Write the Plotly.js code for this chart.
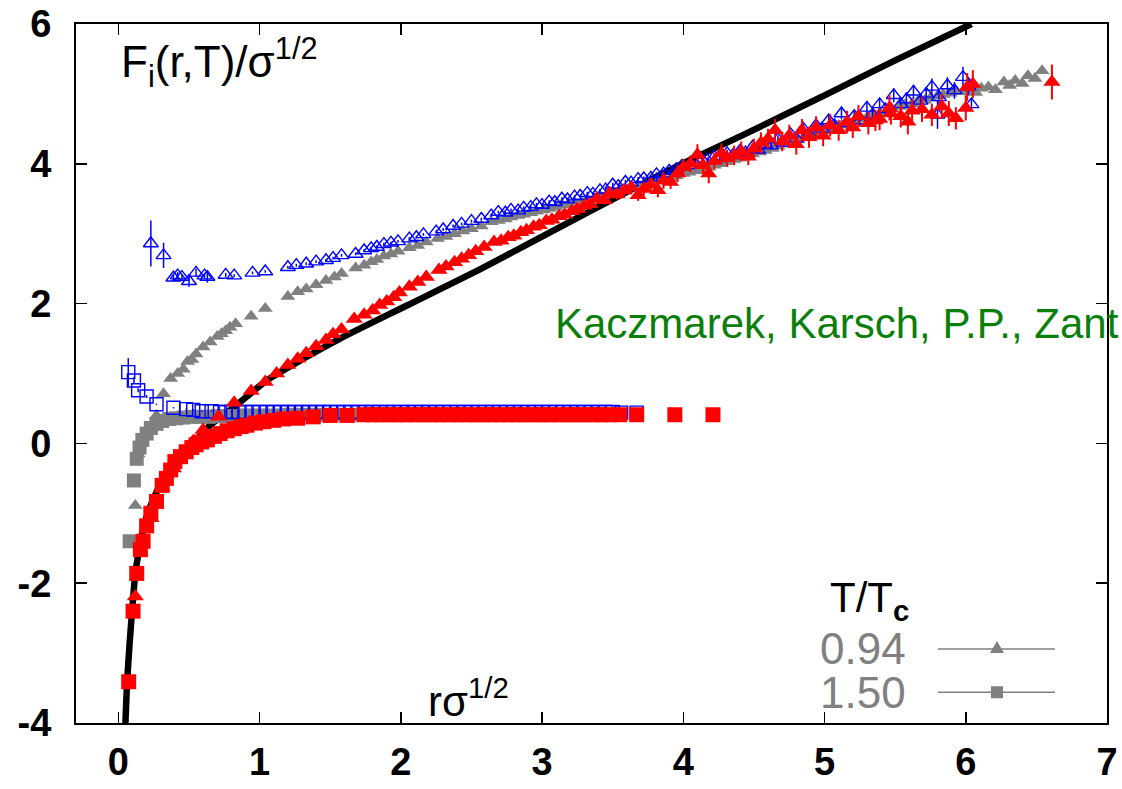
<!DOCTYPE html>
<html>
<head>
<meta charset="utf-8">
<script src="https://cdn.plot.ly/plotly-3.0.1.min.js"></script>
<style>html,body{margin:0;padding:0;background:#fff;}#chart{width:1122px;height:789px;}</style>
</head>
<body>
<div id="chart"></div>
<script>
// ---------- data (x = r*sqrt(sigma), y = F/sqrt(sigma)) ----------
const xTicks = [0, 1, 2, 3, 4, 5, 6, 7];
const yTicks = [-4, -2, 0, 2, 4, 6];

// thick black curve (T = 0 potential)
const curveX = [0.05, 0.062, 0.08, 0.097, 0.12, 0.147, 0.18, 0.24, 0.32, 0.44, 0.53, 0.65, 0.82, 1.05, 1.3, 1.57, 2.05, 2.57, 3.28, 3.99, 4.41, 5.0, 5.5, 6.04];
const curveY = [-4.0, -3.41, -2.85, -2.4, -1.86, -1.52, -1.18, -0.83, -0.5, -0.12, 0.0, 0.26, 0.52, 0.9, 1.2, 1.5, 1.98, 2.5, 3.26, 4.0, 4.4, 4.98, 5.48, 6.0];

// blue open triangles [x, y, err]
const blueTri = [
 [0.23,2.86,0.33],[0.32,2.69,0.18],[0.39,2.37,0.05],[0.42,2.40,0.05],[0.45,2.38,0.04],[0.50,2.32,0.08],
 [0.55,2.44,0.06],[0.61,2.40,0.04],[0.63,2.38,0.08],[0.76,2.41,0.03],[0.82,2.40,0.02],[0.95,2.44,0.02],
 [1.04,2.46,0.02],[1.20,2.52,0.02],[1.26,2.55,0.02],[1.33,2.57,0.02],[1.40,2.60,0.02],[1.47,2.62,0.02],
 [1.52,2.65,0.02],[1.58,2.69,0.02],[1.68,2.71,0.02],[1.74,2.76,0.02],[1.79,2.79,0.02],[1.83,2.81,0.02],
 [1.88,2.85,0.02],[1.93,2.87,0.02],[1.98,2.89,0.02],[2.06,2.93,0.02],[2.11,2.95,0.02],[2.16,2.99,0.02],
 [2.25,3.03,0.02],[2.30,3.06,0.02],[2.37,3.11,0.02],[2.43,3.14,0.02],[2.50,3.18,0.02],[2.57,3.21,0.02],
 [2.64,3.26,0.02],[2.69,3.31,0.02],[2.74,3.30,0.02],[2.78,3.34,0.02],[2.83,3.33,0.02],[2.87,3.37,0.02],
 [2.92,3.38,0.02],[2.96,3.42,0.02],[3.00,3.41,0.02],[3.05,3.46,0.02],[3.09,3.45,0.02],[3.14,3.50,0.02],
 [3.18,3.49,0.02],[3.23,3.53,0.02],[3.27,3.54,0.02],[3.32,3.58,0.02],[3.36,3.57,0.02],[3.41,3.62,0.02],
 [3.45,3.63,0.03],[3.50,3.70,0.03],[3.54,3.68,0.03],[3.59,3.74,0.03],[3.63,3.73,0.03],[3.68,3.78,0.03],
 [3.72,3.79,0.03],[3.77,3.80,0.03],[3.81,3.85,0.03],[3.86,3.86,0.03],[3.90,3.90,0.03],[3.95,3.92,0.03],
 [3.99,3.97,0.04],[4.04,3.98,0.04],[4.08,4.02,0.04],[4.13,4.06,0.04],[4.17,4.05,0.04],[4.22,4.10,0.04],
 [4.26,4.08,0.04],[4.31,4.15,0.05],[4.35,4.12,0.05],[4.40,4.18,0.05],[4.44,4.16,0.05],[4.49,4.24,0.05],
 [4.53,4.20,0.05],[4.58,4.28,0.06],[4.62,4.26,0.06],[4.67,4.35,0.06],[4.71,4.30,0.06],[4.76,4.42,0.06],
 [4.80,4.36,0.06],[4.85,4.50,0.07],[4.89,4.42,0.07],[4.94,4.55,0.07],[4.98,4.50,0.07],[5.03,4.62,0.08],
 [5.07,4.55,0.08],[5.12,4.72,0.08],[5.16,4.58,0.08],[5.21,4.68,0.08],[5.25,4.62,0.08],[5.30,4.80,0.09],
 [5.34,4.70,0.09],[5.39,4.85,0.09],[5.43,4.78,0.09],[5.49,4.98,0.10],[5.54,4.85,0.10],[5.58,4.92,0.10],
 [5.63,5.03,0.10],[5.68,4.90,0.10],[5.72,5.00,0.10],[5.76,5.10,0.12],[5.80,4.70,0.20],[5.81,4.95,0.12],
 [5.87,5.12,0.12],[5.92,5.05,0.12],[5.98,5.24,0.15],[6.02,5.10,0.12],[6.04,4.85,0.08]
];

// grey filled triangles [x, y]
const greyTri = [
 [0.12,-0.89],[0.14,-0.15],[0.16,0.05],[0.19,0.12],[0.23,0.21],[0.27,0.40],[0.32,0.71],[0.37,0.93],
 [0.42,1.00],[0.46,1.06],[0.49,1.17],[0.52,1.20],[0.55,1.28],[0.60,1.38],[0.65,1.45],[0.70,1.53],
 [0.73,1.57],[0.76,1.61],[0.79,1.66],[0.83,1.71],[0.94,1.82],[1.04,1.93],[1.20,2.10],[1.27,2.17],
 [1.33,2.21],[1.40,2.27],[1.47,2.33],[1.53,2.38],[1.58,2.43],[1.68,2.51],[1.74,2.55],[1.79,2.60],
 [1.83,2.63],[1.88,2.68],[1.93,2.71],[1.98,2.75],[2.06,2.80],[2.12,2.83],[2.18,2.88],[2.26,2.93],
 [2.32,2.96],[2.38,3.00],[2.44,3.04],[2.50,3.07],[2.57,3.11],[2.64,3.17],[2.69,3.19],[2.74,3.21],
 [2.78,3.24],[2.83,3.26],[2.87,3.28],[2.92,3.30],[2.96,3.32],[3.01,3.34],[3.05,3.36],[3.10,3.38],
 [3.14,3.41],[3.19,3.42],[3.23,3.44],[3.28,3.45],[3.32,3.49],[3.37,3.50],[3.41,3.54],[3.46,3.56],
 [3.50,3.59],[3.55,3.61],[3.59,3.63],[3.64,3.66],[3.68,3.68],[3.73,3.70],[3.77,3.72],[3.82,3.75],
 [3.86,3.78],[3.91,3.80],[3.95,3.83],[4.00,3.86],[4.04,3.88],[4.09,3.90],[4.13,3.93],[4.18,3.95],
 [4.22,3.98],[4.27,4.00],[4.31,4.03],[4.36,4.06],[4.40,4.08],[4.45,4.11],[4.49,4.14],[4.54,4.17],
 [4.58,4.19],[4.63,4.22],[4.67,4.25],[4.72,4.28],[4.76,4.31],[4.81,4.34],[4.85,4.37],[4.90,4.40],
 [4.94,4.43],[4.99,4.47],[5.03,4.50],[5.08,4.52],[5.12,4.55],[5.17,4.58],[5.21,4.61],[5.26,4.64],
 [5.30,4.66],[5.35,4.70],[5.39,4.72],[5.44,4.75],[5.48,4.78],[5.53,4.82],[5.57,4.84],[5.62,4.86],
 [5.66,4.89],[5.71,4.91],[5.75,4.94],[5.80,4.97],[5.84,4.99],[5.89,5.01],[5.93,5.04],[5.98,5.03],
 [6.02,5.06],[6.07,5.02],[6.11,5.08],[6.16,5.10],[6.21,5.06],[6.27,5.17],[6.31,5.12],[6.35,5.19],
 [6.40,5.15],[6.44,5.26],[6.49,5.22],[6.54,5.33]
];

// grey filled squares [x, y]
const greySq = [
 [0.08,-1.40],[0.11,-0.53],[0.13,-0.22],[0.15,-0.06],[0.17,0.05],[0.20,0.14],[0.23,0.22],[0.27,0.28],
 [0.31,0.32],[0.36,0.35],[0.41,0.36],[0.46,0.37],[0.52,0.38],[0.58,0.38],[0.64,0.38],[0.70,0.39],
 [0.76,0.39],[0.82,0.39],[0.90,0.40],[1.00,0.40],[1.10,0.40],[1.20,0.41],[1.30,0.41],[1.40,0.41],
 [1.50,0.41],[1.60,0.41],[1.70,0.41],[1.80,0.42],[1.90,0.42],[2.00,0.42],[2.20,0.42],[2.40,0.42],
 [2.60,0.42],[2.80,0.42],[3.00,0.42],[3.20,0.42],[3.40,0.42]
];

// blue open squares [x, y, err]
const blueSq = [
 [0.07,1.02,0.20],[0.11,0.90,0.05],[0.14,0.76,0.03],[0.20,0.67,0.02],[0.27,0.56,0.01],[0.39,0.51,0.01],
 [0.48,0.49,0.01],[0.53,0.48,0.01],[0.59,0.46,0.01],[0.66,0.46,0.01],[0.72,0.45,0.01],[0.76,0.45,0.01],
 [0.80,0.45,0.01],[0.85,0.45,0.01],[0.90,0.45,0.01],[0.95,0.45,0.01],[1.00,0.45,0.01],[1.05,0.45,0.01],
 [1.10,0.45,0.01],[1.15,0.45,0.01],[1.20,0.45,0.01],[1.25,0.45,0.01],[1.30,0.45,0.01],[1.35,0.45,0.01],
 [1.40,0.45,0.01],[1.45,0.45,0.01],[1.50,0.45,0.01],[1.55,0.45,0.01],[1.60,0.45,0.01],[1.65,0.45,0.01],
 [1.70,0.45,0.01],[1.75,0.45,0.01],[1.80,0.45,0.01],[1.85,0.45,0.01],[1.90,0.45,0.01],[1.95,0.45,0.01],
 [2.00,0.45,0.01],[2.05,0.45,0.01],[2.10,0.45,0.01],[2.15,0.45,0.01],[2.20,0.45,0.01],[2.25,0.45,0.01],
 [2.30,0.45,0.01],[2.35,0.45,0.01],[2.40,0.45,0.01],[2.45,0.45,0.01],[2.50,0.45,0.01],[2.55,0.45,0.01],
 [2.60,0.45,0.01],[2.65,0.45,0.01],[2.70,0.45,0.01],[2.75,0.45,0.01],[2.80,0.45,0.01],[2.85,0.45,0.01],
 [2.90,0.45,0.01],[2.95,0.45,0.01],[3.00,0.45,0.01],[3.05,0.45,0.01],[3.10,0.45,0.01],[3.15,0.45,0.01],
 [3.20,0.45,0.01],[3.25,0.45,0.01],[3.30,0.45,0.01],[3.35,0.45,0.01],[3.40,0.45,0.01],[3.45,0.45,0.01],
 [3.50,0.45,0.01],[3.56,0.44,0.01],[3.67,0.44,0.01]
];

// red filled triangles [x, y, err]
const redTri = [
 [0.12,-2.19,0.02],[0.23,-1.07,0.02],[0.31,-0.62,0.02],[0.39,-0.36,0.02],[0.46,-0.15,0.02],[0.53,0.03,0.02],
 [0.60,0.19,0.02],[0.71,0.38,0.02],[0.82,0.58,0.02],[0.94,0.75,0.02],[1.04,0.88,0.02],[1.12,1.00,0.02],
 [1.20,1.12,0.02],[1.27,1.21,0.02],[1.33,1.29,0.02],[1.40,1.39,0.02],[1.47,1.48,0.02],[1.52,1.56,0.02],
 [1.58,1.63,0.02],[1.67,1.78,0.02],[1.74,1.84,0.02],[1.80,1.90,0.02],[1.85,1.98,0.02],[1.90,2.03,0.02],
 [1.95,2.09,0.02],[1.99,2.16,0.02],[2.06,2.24,0.02],[2.12,2.31,0.02],[2.18,2.38,0.02],[2.27,2.48,0.02],
 [2.32,2.53,0.02],[2.38,2.59,0.02],[2.43,2.64,0.02],[2.48,2.69,0.02],[2.53,2.75,0.02],[2.59,2.81,0.02],
 [2.66,2.88,0.03],[2.71,2.90,0.03],[2.76,2.95,0.03],[2.80,2.97,0.03],[2.85,3.02,0.03],[2.89,3.05,0.03],
 [2.94,3.10,0.04],[2.98,3.12,0.04],[3.03,3.18,0.04],[3.07,3.20,0.04],[3.12,3.25,0.05],[3.16,3.27,0.05],
 [3.21,3.32,0.05],[3.25,3.35,0.05],[3.30,3.40,0.06],[3.34,3.42,0.06],[3.39,3.50,0.08],[3.44,3.48,0.06],
 [3.48,3.58,0.08],[3.53,3.56,0.07],[3.58,3.62,0.08],[3.63,3.66,0.10],[3.68,3.55,0.08],[3.72,3.64,0.10],
 [3.77,3.70,0.10],[3.82,3.62,0.10],[3.86,3.76,0.12],[3.91,3.74,0.10],[3.96,3.86,0.12],[4.00,3.95,0.12],
 [4.05,4.00,0.12],[4.10,4.13,0.15],[4.14,3.98,0.12],[4.18,3.86,0.14],[4.22,4.04,0.12],[4.27,4.15,0.14],
 [4.31,4.08,0.12],[4.36,4.12,0.14],[4.41,4.18,0.14],[4.46,4.10,0.12],[4.50,4.22,0.14],[4.55,4.30,0.15],
 [4.60,4.36,0.14],[4.65,4.48,0.16],[4.70,4.32,0.14],[4.75,4.40,0.16],[4.80,4.28,0.15],[4.84,4.48,0.16],
 [4.89,4.38,0.15],[4.94,4.52,0.16],[4.99,4.40,0.15],[5.04,4.55,0.16],[5.10,4.48,0.15],[5.16,4.60,0.16],
 [5.20,4.52,0.15],[5.24,4.68,0.16],[5.31,4.58,0.16],[5.36,4.62,0.15],[5.39,4.64,0.16],[5.46,4.80,0.18],
 [5.47,4.72,0.16],[5.54,4.68,0.16],[5.59,4.60,0.18],[5.62,4.76,0.16],[5.69,4.78,0.18],[5.76,4.70,0.16],
 [5.83,4.82,0.18],[5.88,4.72,0.18],[5.93,4.65,0.16],[6.00,4.80,0.18],[6.01,5.10,0.20],[6.05,5.14,0.20],
 [6.61,5.17,0.25]
];

// red filled squares [x, y]
const redSq = [
 [0.073,-3.41],[0.104,-2.40],[0.13,-1.86],[0.156,-1.52],[0.175,-1.40],[0.20,-1.18],[0.23,-1.00],[0.27,-0.83],
 [0.31,-0.60],[0.34,-0.50],[0.37,-0.38],[0.40,-0.26],[0.44,-0.19],[0.48,-0.12],[0.52,-0.06],[0.55,-0.02],
 [0.59,0.02],[0.63,0.05],[0.68,0.10],[0.72,0.14],[0.77,0.18],[0.82,0.21],[0.87,0.24],[0.91,0.26],
 [0.97,0.29],[1.03,0.31],[1.10,0.33],[1.17,0.35],[1.27,0.36],[1.38,0.38],[1.50,0.40],[1.62,0.40],
 [1.74,0.41],[1.80,0.41],[1.86,0.41],[1.92,0.41],[1.98,0.41],[2.04,0.41],[2.10,0.41],[2.16,0.41],
 [2.22,0.41],[2.28,0.41],[2.34,0.41],[2.40,0.41],[2.46,0.41],[2.52,0.41],[2.58,0.41],[2.64,0.41],
 [2.70,0.41],[2.76,0.41],[2.82,0.41],[2.88,0.41],[2.94,0.41],[3.00,0.41],[3.06,0.41],[3.12,0.41],
 [3.18,0.41],[3.24,0.41],[3.30,0.41],[3.36,0.41],[3.42,0.41],[3.48,0.41],[3.55,0.41],[3.67,0.41],
 [3.94,0.41],[4.21,0.41]
];

const legendLabels = ['0.94', '1.50'];
const legendTitle = 'T/T<sub><b>c</b></sub>';
const yLabel = 'F<sub>i</sub>(r,T)/σ<sup>1/2</sup>';
const xLabel = 'rσ<sup>1/2</sup>';
const credit = 'Kaczmarek, Karsch, P.P., Zant';

// ---------- styling ----------
const GREY = '#808080', BLUE = '#0000ff', RED = '#ff0000', GREEN = '#0b7f0b';
const col = (a, i) => a.map(p => p[i]);

const traces = [
  {x: curveX, y: curveY, mode: 'lines', line: {color: '#000', width: 6.5, shape: 'spline', smoothing: 0.6}, hoverinfo: 'skip'},
  {x: col(greySq,0), y: col(greySq,1), mode: 'markers', marker: {symbol: 'square', size: 14, color: GREY, line: {width: 0}}},
  {x: col(greyTri,0), y: col(greyTri,1), mode: 'markers', marker: {symbol: 'triangle-up', size: 13, color: GREY, line: {width: 0}}},
  {x: col(blueSq,0), y: col(blueSq,1), mode: 'markers',
   error_y: {type: 'data', array: col(blueSq,2), visible: true, color: BLUE, thickness: 1.5, width: 0},
   marker: {symbol: 'square-open', size: 13, color: BLUE, line: {width: 1.4, color: BLUE}}},
  {x: col(blueTri,0), y: col(blueTri,1), mode: 'markers',
   error_y: {type: 'data', array: col(blueTri,2), visible: true, color: BLUE, thickness: 1.5, width: 0},
   marker: {symbol: 'triangle-up-open', size: 13, color: BLUE, line: {width: 1.4, color: BLUE}}},
  {x: col(redSq,0), y: col(redSq,1), mode: 'markers', marker: {symbol: 'square', size: 15, color: RED, line: {width: 0}}},
  {x: col(redTri,0), y: col(redTri,1), mode: 'markers',
   error_y: {type: 'data', array: col(redTri,2), visible: true, color: RED, thickness: 2, width: 0},
   marker: {symbol: 'triangle-up', size: 15, color: RED, line: {width: 0}}}
];

const tickFont = {family: 'Liberation Sans, Arial, sans-serif', size: 38, color: '#000', weight: 'bold'};
const txt = 'Liberation Sans, Arial, sans-serif';

const axisCommon = {
  showline: true, linecolor: '#000', linewidth: 2, mirror: 'allticks',
  ticks: 'inside', ticklen: 11, tickwidth: 1.5, tickcolor: '#000',
  showgrid: false, zeroline: false, tickfont: tickFont, tickmode: 'array'
};

// legend geometry in plot fractions (decoration only)
const legY = [0.106, 0.044];
const legX0 = 0.836, legX1 = 0.9496, legXm = 0.8933;

const shapes = [];
legY.forEach((yy, i) => {
  shapes.push({type: 'line', xref: 'paper', yref: 'paper', x0: legX0, x1: legX1, y0: yy, y1: yy, line: {color: GREY, width: 1.5}});
  shapes.push({type: 'path', xref: 'paper', yref: 'paper', xsizemode: 'pixel', ysizemode: 'pixel',
    xanchor: legXm, yanchor: yy,
    path: i === 0 ? 'M-7,-4 L7,-4 L0,8 Z' : 'M-6,-6 L6,-6 L6,6 L-6,6 Z',
    fillcolor: GREY, line: {width: 0}});
});

const layout = {
  width: 1122, height: 789,
  margin: {l: 76, r: 15, t: 24, b: 66, pad: 0},
  paper_bgcolor: '#fff', plot_bgcolor: '#fff',
  showlegend: false,
  xaxis: Object.assign({}, axisCommon, {range: [-0.3, 7], tickvals: xTicks, ticktext: xTicks.map(String), ticklabelstandoff: 4}),
  yaxis: Object.assign({}, axisCommon, {range: [-4, 6], tickvals: yTicks, ticktext: yTicks.map(String), ticklabelstandoff: 15}),
  shapes: shapes,
  annotations: [
    {xref: 'paper', yref: 'paper', x: 0.042, y: 0.945, xanchor: 'left', yanchor: 'middle', showarrow: false,
     text: yLabel, font: {family: txt, size: 44, color: '#000'}},
    {xref: 'paper', yref: 'paper', x: 0.339, y: 0.036, xanchor: 'left', yanchor: 'middle', showarrow: false,
     text: xLabel, font: {family: txt, size: 42, color: '#000'}},
    {xref: 'paper', yref: 'paper', x: 0.4627, y: 0.5722, xanchor: 'left', yanchor: 'middle', showarrow: false,
     text: credit, font: {family: txt, size: 42, color: GREEN}},
    {xref: 'paper', yref: 'paper', x: 0.7294, y: 0.175, xanchor: 'left', yanchor: 'middle', showarrow: false,
     text: legendTitle, font: {family: txt, size: 42, color: '#000'}},
    {xref: 'paper', yref: 'paper', x: 0.807, y: legY[0], xanchor: 'right', yanchor: 'middle', showarrow: false,
     text: legendLabels[0], font: {family: txt, size: 44, color: GREY}},
    {xref: 'paper', yref: 'paper', x: 0.807, y: legY[1], xanchor: 'right', yanchor: 'middle', showarrow: false,
     text: legendLabels[1], font: {family: txt, size: 44, color: GREY}}
  ]
};

Plotly.newPlot('chart', traces, layout, {staticPlot: true, displayModeBar: false});
</script>
</body>
</html>
